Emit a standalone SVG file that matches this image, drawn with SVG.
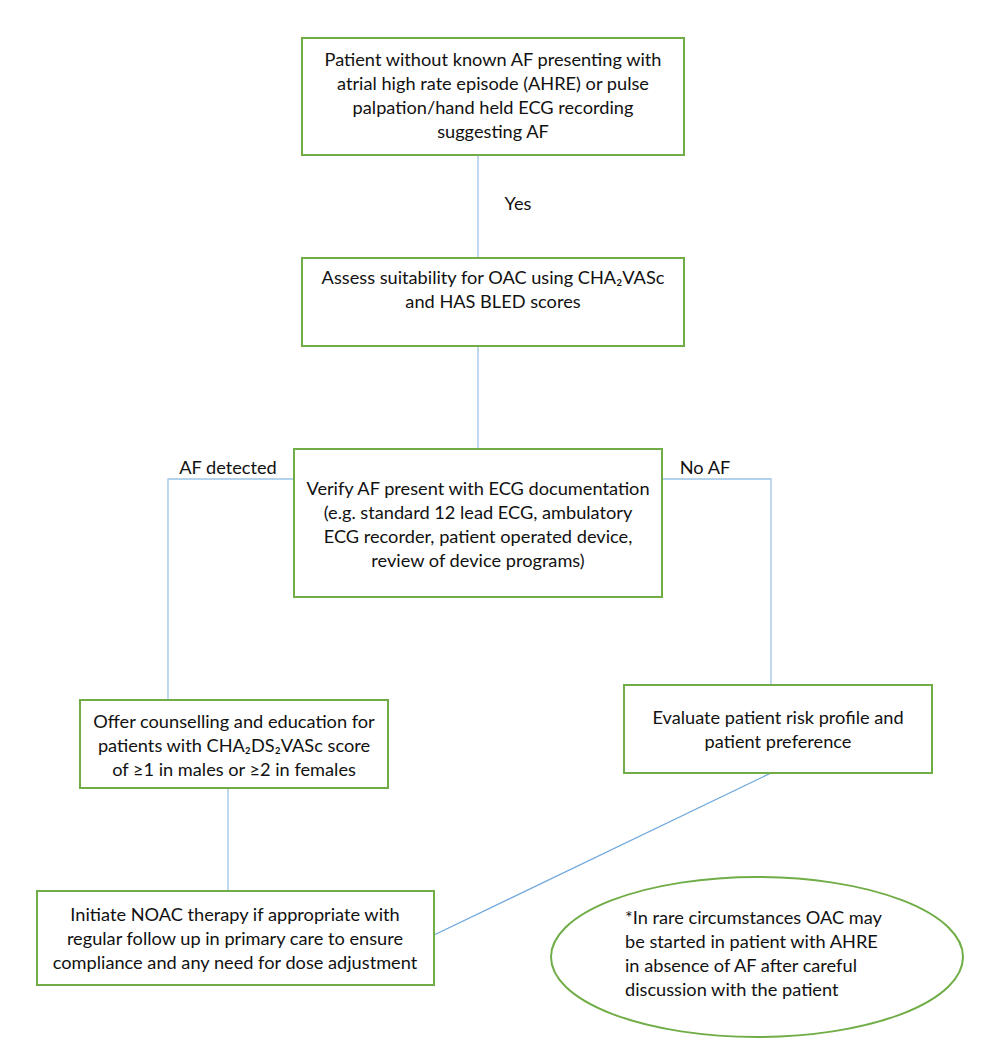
<svg xmlns="http://www.w3.org/2000/svg" width="1000" height="1059" viewBox="0 0 1000 1059">
<style>
.box{fill:#fff;stroke:#70AD47;stroke-width:2}
.t{font-family:Lato,"Open Sans","Liberation Sans",sans-serif;font-size:18.2px;fill:#111;text-anchor:middle}
.l{text-anchor:start}
.c{fill:none;stroke:#9DC3E6;stroke-width:1.3}
</style>
<rect width="1000" height="1059" fill="#fff"/>
<g id="connectors">
<path class="c" d="M478 155V258"/>
<path class="c" d="M478 346V449"/>
<path class="c" d="M316 479H168V700"/>
<path class="c" d="M654 479H771V685"/>
<path class="c" d="M228 788V891"/>
<path class="c" d="M771 773L434 935" style="stroke:#6FA8DC"/>
<text class="t" x="518" y="210">Yes</text>
<text class="t" x="228" y="474">AF detected</text>
<text class="t" x="705" y="474">No AF</text>
</g>
<g id="n1">
<rect class="box" x="302" y="38" width="382" height="117"/>
<text class="t" x="493" y="66">Patient without known AF presenting with</text>
<text class="t" x="493" y="90">atrial high rate episode (AHRE) or pulse</text>
<text class="t" x="493" y="114">palpation/hand held ECG recording</text>
<text class="t" x="493" y="138">suggesting AF</text>
</g>
<g id="n2">
<rect class="box" x="302" y="258" width="382" height="88"/>
<text class="t" x="493" y="284">Assess suitability for OAC using CHA₂VASc</text>
<text class="t" x="493" y="308">and HAS BLED scores</text>
</g>
<g id="n3">
<rect class="box" x="294" y="449" width="368" height="148"/>
<text class="t" x="478" y="495">Verify AF present with ECG documentation</text>
<text class="t" x="478" y="519">(e.g. standard 12 lead ECG, ambulatory</text>
<text class="t" x="478" y="543">ECG recorder, patient operated device,</text>
<text class="t" x="478" y="567">review of device programs)</text>
</g>
<g id="n4">
<rect class="box" x="80" y="700" width="308" height="88"/>
<text class="t" x="234" y="728">Offer counselling and education for</text>
<text class="t" x="234" y="752">patients with CHA₂DS₂VASc score</text>
<text class="t" x="234" y="776">of ≥1 in males or ≥2 in females</text>
</g>
<g id="n5">
<rect class="box" x="624" y="685" width="308" height="88"/>
<text class="t" x="778" y="724">Evaluate patient risk profile and</text>
<text class="t" x="778" y="748">patient preference</text>
</g>
<g id="n6">
<rect class="box" x="37" y="891" width="397" height="94"/>
<text class="t" x="235" y="921">Initiate NOAC therapy if appropriate with</text>
<text class="t" x="235" y="945">regular follow up in primary care to ensure</text>
<text class="t" x="235" y="969">compliance and any need for dose adjustment</text>
</g>
<g id="n7">
<ellipse class="box" cx="757" cy="957" rx="206" ry="80"/>
<text class="t l" x="625" y="924">*In rare circumstances OAC may</text>
<text class="t l" x="625" y="948">be started in patient with AHRE</text>
<text class="t l" x="625" y="972">in absence of AF after careful</text>
<text class="t l" x="625" y="996">discussion with the patient</text>
</g>
</svg>
